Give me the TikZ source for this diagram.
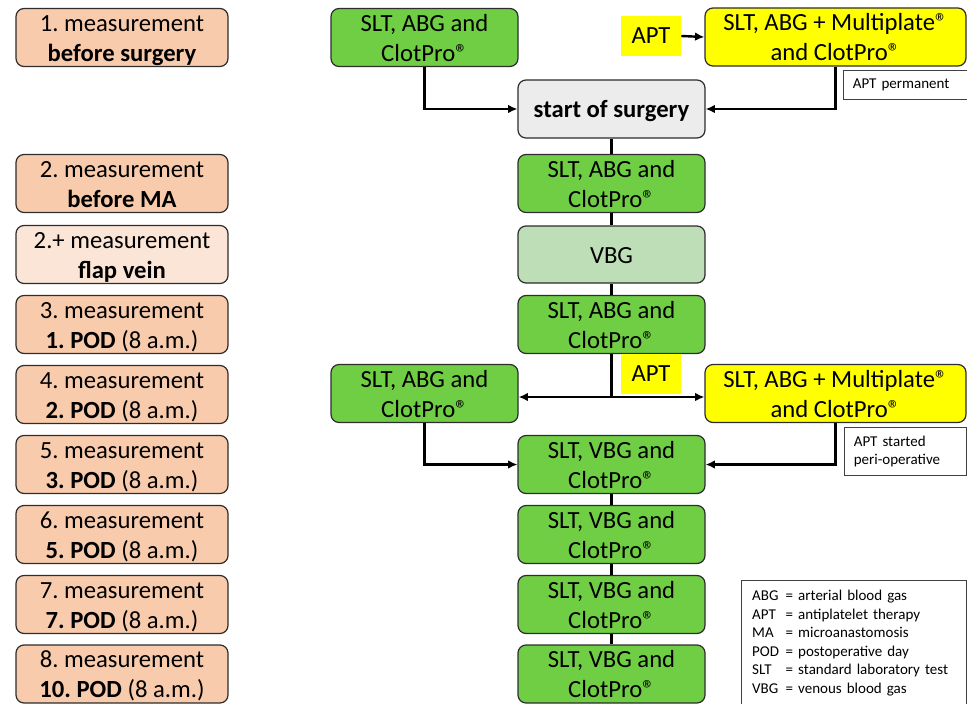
\documentclass[tikz,border=0pt]{standalone}
\usepackage{fontspec}
\setmainfont{Carlito}
\usetikzlibrary{arrows.meta}
\frenchspacing

\definecolor{salmon}{RGB}{248,203,173}
\definecolor{salmonlight}{RGB}{251,229,214}
\definecolor{labgreen}{RGB}{112,206,68}
\definecolor{vbggreen}{RGB}{190,222,183}
\definecolor{surggray}{RGB}{236,236,236}
\definecolor{aptyellow}{RGB}{255,255,0}
\definecolor{frame}{RGB}{45,45,45}

\newcommand{\clotpro}{ClotPro®}
\newcommand{\mplate}{Multiplate®}
\newcommand{\tstrut}{\rule{0pt}{17pt}}
\newcommand{\bstrut}{\rule[-4pt]{0pt}{4pt}}

\begin{document}
\begin{tikzpicture}[x=0.75pt,y=0.75pt,yscale=-1,xscale=1,
	box/.style={draw=frame, line width=0.9pt, rounded corners=6pt, align=center, inner sep=0pt, font=\fontsize{18.5}{22.5}\selectfont, execute at end node={\bstrut}},
	meas/.style={box, fill=salmon, minimum width=159pt, minimum height=42.75pt},
	lab/.style={box, fill=labgreen, minimum width=140.25pt, minimum height=42.75pt},
	plate/.style={box, fill=aptyellow, minimum width=195.75pt, minimum height=43.5pt},
	aptlabel/.style={fill=aptyellow, minimum width=45pt, minimum height=30pt, inner sep=0pt, font=\fontsize{18.5}{22.5}\selectfont},
	note/.style={draw=black!75, line width=0.75pt, anchor=north west, align=left, inner xsep=7pt, inner ysep=0pt, font=\fontsize{11.25}{13.9}\selectfont},
	flow/.style={line width=1.8pt},
	arr/.style={flow, -{Latex[length=7pt,width=6.5pt]}}]
			\useasboundingbox (0,0) rectangle (967,703);
			
			%Shape: measurement column
			\node[meas] (m1) at (122,37.5) {\tstrut 1. measurement\\\textbf{before surgery}};
			\node[meas] (m2) at (122,183.5) {\tstrut 2. measurement\\\textbf{before MA}};
			\node[meas, fill=salmonlight] (m2p) at (122,254.5) {\tstrut 2.+ measurement\\\textbf{flap vein}};
			\node[meas] (m3) at (122,324.5) {\tstrut 3. measurement\\\textbf{1. POD} (8 a.m.)};
			\node[meas] (m4) at (122,394.5) {\tstrut 4. measurement\\\textbf{2. POD} (8 a.m.)};
			\node[meas] (m5) at (122,464.5) {\tstrut 5. measurement\\\textbf{3. POD} (8 a.m.)};
			\node[meas] (m6) at (122,534.5) {\tstrut 6. measurement\\\textbf{5. POD} (8 a.m.)};
			\node[meas] (m7) at (122,604.5) {\tstrut 7. measurement\\\textbf{7. POD} (8 a.m.)};
			\node[meas] (m8) at (122,674) {\tstrut 8. measurement\\\textbf{10. POD} (8 a.m.)};
			
			%Shape: before surgery
			\node[lab] (pre) at (424.5,37.5) {\tstrut SLT, ABG and\\\clotpro};
			\node[aptlabel] (apt1) at (651,36) {APT};
			\node[plate] (preapt) at (835.5,37) {\tstrut SLT, ABG + \mplate\\and \clotpro};
			\node[note, text width=79pt, minimum height=21.75pt] (perm) at (843,70) {APT permanent};
			
			%Shape: main column
			\node[box, fill=surggray, minimum width=140.25pt, minimum height=43.5pt] (start) at (611.5,109) {\tstrut\textbf{start of surgery}};
			\node[lab] (g1) at (611.5,183.5) {\tstrut SLT, ABG and\\\clotpro};
			\node[lab, fill=vbggreen] (vbg) at (611.5,254.5) {\tstrut VBG};
			\node[lab] (g2) at (611.5,324.5) {\tstrut SLT, ABG and\\\clotpro};
			
			%Shape: split after surgery
			\node[lab] (post) at (424.5,393.5) {\tstrut SLT, ABG and\\\clotpro};
			\node[aptlabel] (apt2) at (651,374) {APT};
			\node[plate] (postapt) at (835.5,393.5) {\tstrut SLT, ABG + \mplate\\and \clotpro};
			\node[note, text width=77.5pt, minimum height=36pt] (peri) at (844,427) {APT started\\peri-operative};
			\coordinate (split) at (611.5,397);
			
			%Shape: postoperative days
			\node[lab] (v1) at (611.5,464.5) {\tstrut SLT, VBG and\\\clotpro};
			\node[lab] (v2) at (611.5,534.5) {\tstrut SLT, VBG and\\\clotpro};
			\node[lab] (v3) at (611.5,604.5) {\tstrut SLT, VBG and\\\clotpro};
			\node[lab] (v4) at (611.5,674) {\tstrut SLT, VBG and\\\clotpro};
			
			% Text Node: abbreviations
			\node[note, text width=152.75pt, inner xsep=8pt, minimum height=94pt] (legend) at (741,580) {%
				\begin{tabular}{@{}l@{\hspace{5pt}}l@{}}
				ABG & = arterial blood gas\\
				APT & = antiplatelet therapy\\
				MA & = microanastomosis\\
				POD & = postoperative day\\
				SLT & = standard laboratory test\\
				VBG & = venous blood gas
				\end{tabular}};
			
			%Straight Lines
			\draw[arr] (pre.south) |- (start.west);
			\draw[arr] (apt1.east) -- (preapt.west);
			\draw[arr] (preapt.south) |- (start.east);
			\draw[flow] (start) -- (g1);
			\draw[flow] (g1) -- (vbg);
			\draw[flow] (vbg) -- (g2);
			\draw[flow] (g2.south) -- (split);
			\draw[arr] (split) -- (post.east |- split);
			\draw[arr] (split) -- (postapt.west |- split);
			\draw[arr] (post.south) |- (v1.west);
			\draw[arr] (postapt.south) |- (v1.east);
			\draw[flow] (v1) -- (v2);
			\draw[flow] (v2) -- (v3);
			\draw[flow] (v3) -- (v4);
			
		\end{tikzpicture}
\end{document}
